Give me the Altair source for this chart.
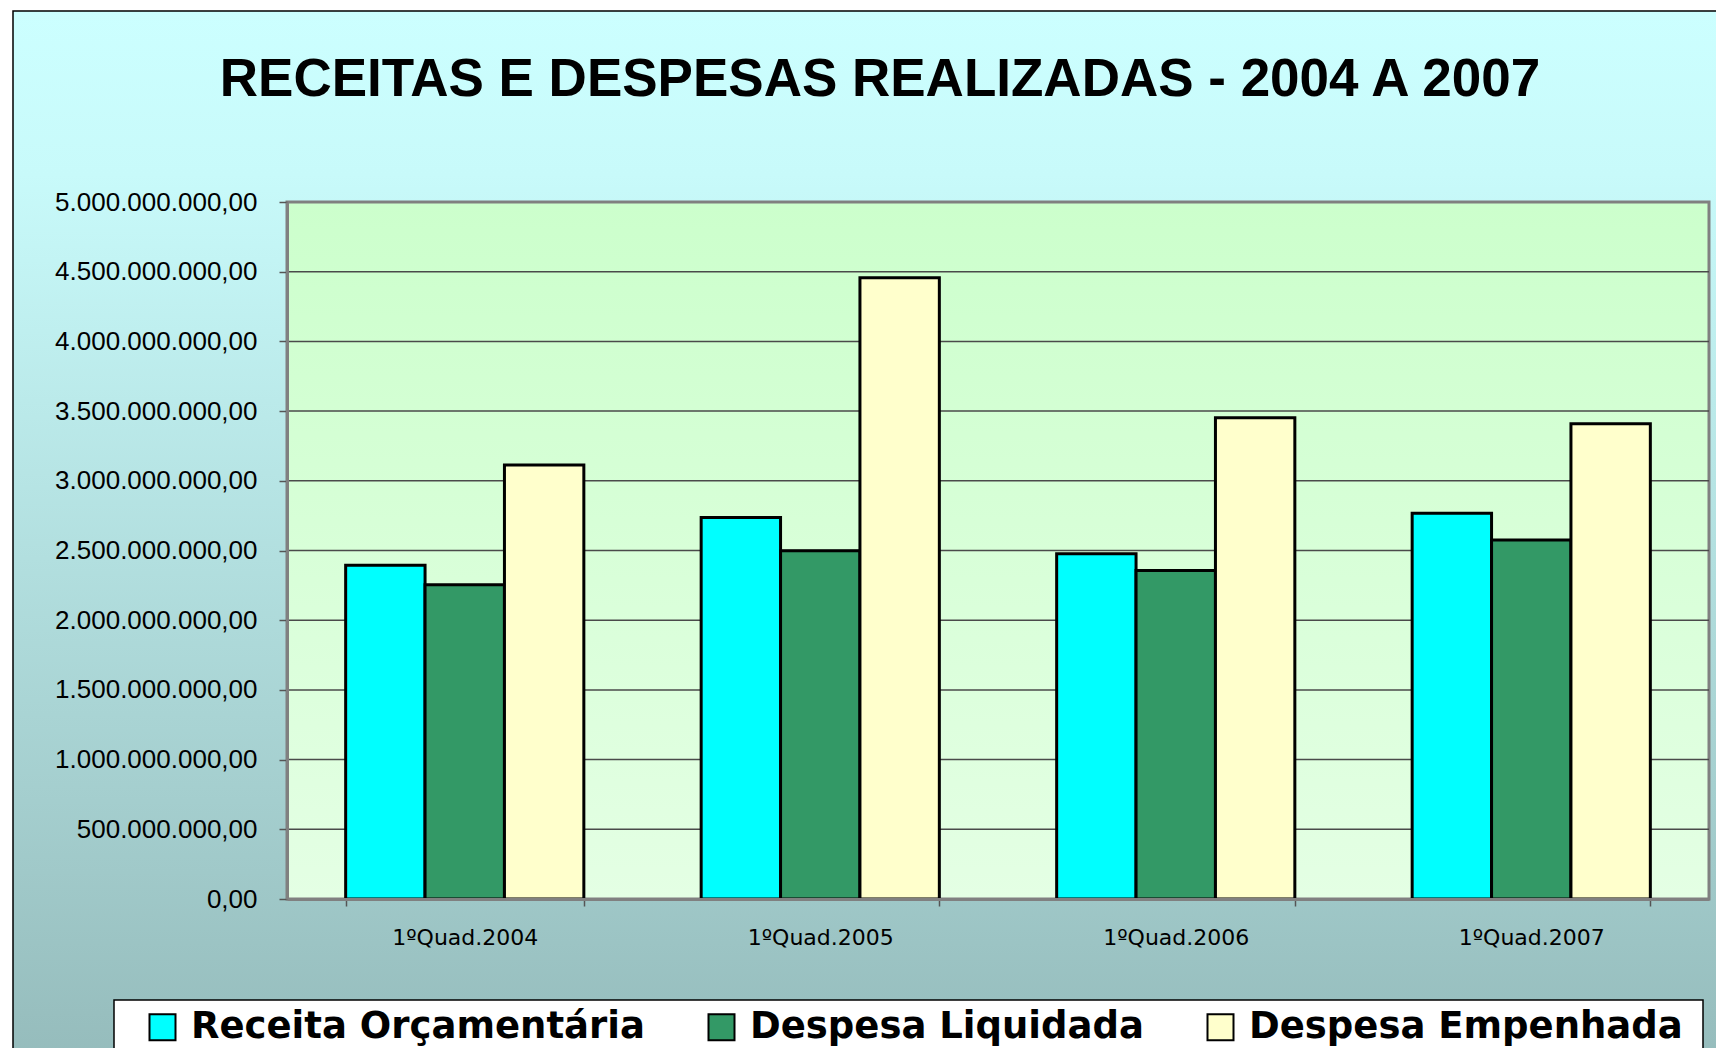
import altair as alt
import pandas as pd

# ---------------- data ----------------
CATEGORIAS = ["1ºQuad.2004", "1ºQuad.2005", "1ºQuad.2006", "1ºQuad.2007"]
SERIES = ["Receita Orçamentária", "Despesa Liquidada", "Despesa Empenhada"]
RECEITA = [2394000000, 2737000000, 2476000000, 2767000000]
LIQUIDADA = [2255000000, 2498000000, 2356000000, 2575000000]
EMPENHADA = [3113000000, 4457000000, 3453000000, 3410000000]
Y_TICKS = [0, 500000000, 1000000000, 1500000000, 2000000000, 2500000000,
           3000000000, 3500000000, 4000000000, 4500000000, 5000000000]
GRID = [500000000, 1000000000, 1500000000, 2000000000, 2500000000,
        3000000000, 3500000000, 4000000000, 4500000000]
CORES = ["#00FFFF", "#339966", "#FFFFCC"]
TITULO = "RECEITAS E DESPESAS REALIZADAS - 2004 A 2007"

rows = []
for serie, vals in zip(SERIES, [RECEITA, LIQUIDADA, EMPENHADA]):
    for cat, v in zip(CATEGORIAS, vals):
        rows.append({"cat": cat, "serie": serie, "valor": v})
df = pd.DataFrame(rows)
grid_df = pd.DataFrame({"valor": GRID})
one = pd.DataFrame({"k": [0]})
title_df = pd.DataFrame({"t": [TITULO]})

W, H = 1422, 697

y_enc = alt.Y(
    "valor:Q",
    scale=alt.Scale(domain=[0, 5000000000], nice=False),
    axis=alt.Axis(
        values=Y_TICKS, format=",.2f", title=None, grid=False,
        labelFont="Liberation Sans", labelFontSize=26, labelColor="black",
        labelLimit=400, labelPadding=22, tickSize=8, tickColor="#555555",
        tickWidth=1.5, domainColor="#808080", domainWidth=3, zindex=1,
    ),
)

# outer chart background (gradient)
outer_bg = alt.Chart(one).mark_rect(
    fill=alt.Gradient(
        gradient="linear", x1=0, x2=0, y1=0, y2=1,
        stops=[alt.GradientStop(offset=0, color="#CCFFFF"),
               alt.GradientStop(offset=0.15, color="#C8FAFA"),
               alt.GradientStop(offset=1, color="#93B9B9")],
    ),
    stroke="black", strokeWidth=1.5,
).encode(x=alt.value(-274), x2=alt.value(W + 60), y=alt.value(-191), y2=alt.value(H + 200))

# chart title
title = alt.Chart(title_df).mark_text(
    font="Liberation Sans", fontSize=53, fontWeight="bold", color="black",
    align="center", baseline="alphabetic",
).encode(text="t:N", x=alt.value(593), y=alt.value(-106))

# legend box
legend_box = alt.Chart(one).mark_rect(
    fill="white", stroke="black", strokeWidth=1.5
).encode(x=alt.value(-173), x2=alt.value(1416), y=alt.value(798), y2=alt.value(847))

# plot area background (gradient)
plot_bg = alt.Chart(one).mark_rect(
    fill=alt.Gradient(
        gradient="linear", x1=0, x2=0, y1=0, y2=1,
        stops=[alt.GradientStop(offset=0, color="#CCFFCC"),
               alt.GradientStop(offset=1, color="#E4FFE4")],
    ),
    stroke="#808080", strokeWidth=3,
).encode(x=alt.value(0), x2=alt.value(W), y=alt.value(0), y2=alt.value(H))

grid = alt.Chart(grid_df).mark_rule(color="#4a4a4a", strokeWidth=1.5).encode(y=y_enc)

bars = alt.Chart(df).mark_bar(stroke="black", strokeWidth=3, opacity=1).encode(
    x=alt.X(
        "cat:N", sort=CATEGORIAS,
        scale=alt.Scale(paddingInner=0.33, paddingOuter=0.165),
        axis=alt.Axis(
            title=None, labelAngle=0, tickBand="extent",
            labelFont="DejaVu Sans", labelFontSize=22, labelColor="black",
            tickSize=7, labelPadding=21, tickColor="#555555", tickWidth=1.5,
            domainColor="#808080", domainWidth=3, zindex=1,
        ),
    ),
    xOffset=alt.XOffset("serie:N", sort=SERIES,
                        scale=alt.Scale(paddingInner=0, paddingOuter=0)),
    y=y_enc,
    color=alt.Color(
        "serie:N", sort=SERIES,
        scale=alt.Scale(domain=SERIES, range=CORES),
        legend=alt.Legend(
            title=None, orient="none", legendX=-143, legendY=806.5,
            direction="horizontal", symbolType="square", symbolSize=676,
            symbolStrokeColor="black", symbolStrokeWidth=2, symbolOpacity=1,
            labelFont="DejaVu Sans", labelFontSize=37, labelFontWeight="bold",
            labelColor="black", labelOffset=10, labelLimit=1000,
            columnPadding=58, padding=0, zindex=1,
        ),
    ),
)

chart = alt.layer(outer_bg, title, legend_box, plot_bg, grid, bars).properties(
    width=W, height=H,
    autosize=alt.AutoSizeParams(type="none"),
    padding={"left": 279, "top": 194, "right": 7, "bottom": 149},
).configure(
    locale={"number": {"decimal": ",", "thousands": ".", "grouping": [3],
                       "currency": ["R$", ""]}},
    background="white",
).configure_view(stroke=None)

chart.save("out.html", embed_options={"renderer": "svg", "actions": False})
